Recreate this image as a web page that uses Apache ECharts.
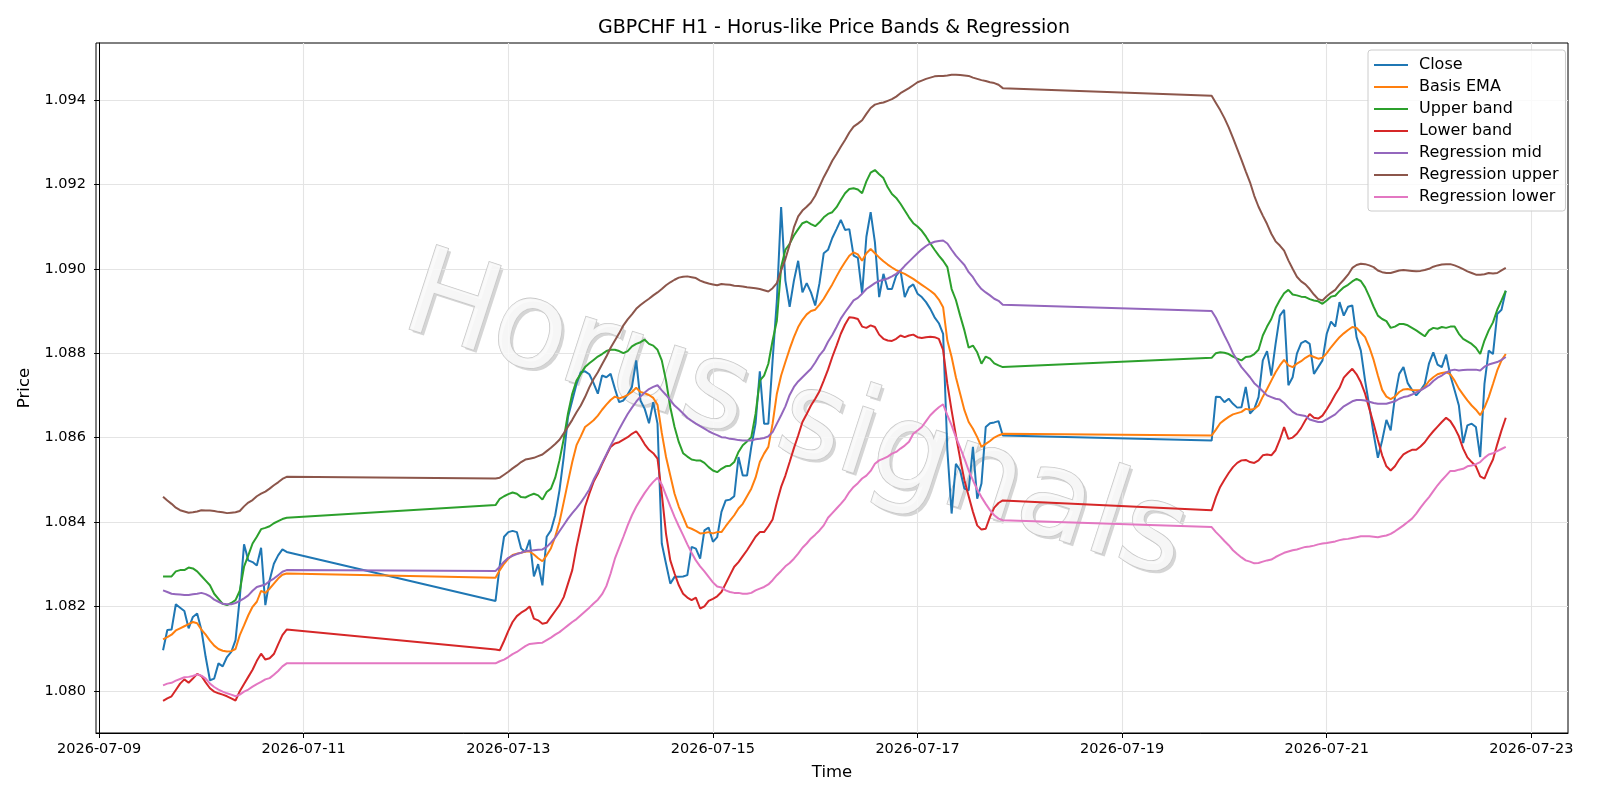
<!DOCTYPE html>
<html>
<head>
<meta charset="utf-8">
<title>GBPCHF H1 - Horus-like Price Bands & Regression</title>
<script src="https://cdn.jsdelivr.net/npm/echarts@6/dist/echarts.min.js"></script>
<style>
  html, body { margin: 0; padding: 0; background: #fff; }
  #chart { width: 1600px; height: 800px; }
</style>
</head>
<body>
<div id="chart"></div>
<script>
// hourly bars, one block per trading week part: [day, first hour, bar count]
const DAY0 = Date.UTC(2026, 6, 9)
const sessions = [['2026-07-09', 15, 30], ['2026-07-12', 21, 120], ['2026-07-19', 21, 70]]

const xTickDays = ['2026-07-09', '2026-07-11', '2026-07-13', '2026-07-15', '2026-07-17', '2026-07-19', '2026-07-21', '2026-07-23']
const yTicks = [1.080, 1.082, 1.084, 1.086, 1.088, 1.090, 1.092, 1.094]

const closeVals = [
  // 07-09 15:00 .. 07-10 20:00
  1.08096, 1.08144, 1.08145, 1.08205, 1.08197, 1.08189, 1.08148, 1.08175, 1.08183, 1.08144,
  1.08080, 1.08025, 1.08029, 1.08065, 1.08058, 1.08080, 1.08092, 1.08120, 1.08220, 1.08347,
  1.08309, 1.08305, 1.08297, 1.08339, 1.08203, 1.08262, 1.08301, 1.08321, 1.08335, 1.08329,
  // 07-12 21:00 .. 07-17 20:00
  1.08213, 1.08298, 1.08365, 1.08376, 1.08379, 1.08376, 1.08337, 1.08329, 1.08358, 1.08271,
  1.08300, 1.08250, 1.08365, 1.08380, 1.08416, 1.08475, 1.08554, 1.08649, 1.08688, 1.08727,
  1.08755, 1.08757, 1.08750, 1.08729, 1.08704, 1.08747, 1.08743, 1.08751, 1.08716, 1.08684,
  1.08688, 1.08702, 1.08720, 1.08783, 1.08688, 1.08668, 1.08634, 1.08684, 1.08633, 1.08349,
  1.08301, 1.08254, 1.08270, 1.08270, 1.08271, 1.08274, 1.08341, 1.08337, 1.08313, 1.08380,
  1.08387, 1.08353, 1.08364, 1.08424, 1.08451, 1.08453, 1.08461, 1.08554, 1.08510, 1.08510,
  1.08578, 1.08633, 1.08757, 1.08633, 1.08633, 1.08783, 1.08925, 1.09146, 1.08972, 1.08910,
  1.08972, 1.09019, 1.08944, 1.08966, 1.08944, 1.08913, 1.08966, 1.09037, 1.09045, 1.09073,
  1.09094, 1.09116, 1.09092, 1.09094, 1.09031, 1.09026, 1.08941, 1.09076, 1.09134, 1.09063,
  1.08933, 1.08988, 1.08952, 1.08952, 1.08984, 1.08996, 1.08933, 1.08956, 1.08963, 1.08941,
  1.08933, 1.08921, 1.08905, 1.08885, 1.08871, 1.08846, 1.08570, 1.08420, 1.08538, 1.08522,
  1.08479, 1.08475, 1.08578, 1.08455, 1.08491, 1.08625, 1.08634, 1.08636, 1.08639, 1.08605,
  // 07-19 21:00 .. 07-22 18:00
  1.08593, 1.08697, 1.08696, 1.08684, 1.08692, 1.08680, 1.08671, 1.08672, 1.08720, 1.08657,
  1.08668, 1.08696, 1.08783, 1.08805, 1.08747, 1.08822, 1.08889, 1.08903, 1.08724, 1.08743,
  1.08799, 1.08824, 1.08829, 1.08822, 1.08751, 1.08767, 1.08783, 1.08846, 1.08875, 1.08863,
  1.08921, 1.08889, 1.08910, 1.08913, 1.08838, 1.08806, 1.08735, 1.08674, 1.08609, 1.08552,
  1.08593, 1.08642, 1.08617, 1.08696, 1.08751, 1.08767, 1.08729, 1.08713, 1.08700, 1.08712,
  1.08727, 1.08776, 1.08802, 1.08773, 1.08767, 1.08797, 1.08747, 1.08712, 1.08676, 1.08587,
  1.08629, 1.08633, 1.08625, 1.08554, 1.08727, 1.08806, 1.08798, 1.08893, 1.08903, 1.08948
]

const emaVals = [
  1.08122, 1.08127, 1.08133, 1.08143, 1.08148, 1.08153, 1.08158, 1.08163, 1.08160, 1.08145,
  1.08133, 1.08119, 1.08107, 1.08099, 1.08095, 1.08093, 1.08094, 1.08099, 1.08132, 1.08155,
  1.08179, 1.08199, 1.08211, 1.08237, 1.08232, 1.08242, 1.08254, 1.08266, 1.08275, 1.08278,
  1.08268, 1.08286, 1.08301, 1.08313, 1.08322, 1.08325, 1.08327, 1.08330, 1.08330, 1.08323,
  1.08314, 1.08307, 1.08321, 1.08338, 1.08365, 1.08400, 1.08447, 1.08495, 1.08542, 1.08582,
  1.08603, 1.08625, 1.08633, 1.08641, 1.08652, 1.08666, 1.08678, 1.08689, 1.08697, 1.08693,
  1.08696, 1.08701, 1.08708, 1.08718, 1.08708, 1.08705, 1.08701, 1.08694, 1.08678, 1.08611,
  1.08554, 1.08510, 1.08467, 1.08436, 1.08412, 1.08388, 1.08384, 1.08379, 1.08373, 1.08374,
  1.08376, 1.08373, 1.08376, 1.08376, 1.08390, 1.08403, 1.08416, 1.08432, 1.08443, 1.08461,
  1.08479, 1.08505, 1.08542, 1.08562, 1.08578, 1.08633, 1.08704, 1.08747, 1.08779, 1.08810,
  1.08838, 1.08862, 1.08879, 1.08892, 1.08900, 1.08903, 1.08915, 1.08929, 1.08946, 1.08963,
  1.08982, 1.09000, 1.09016, 1.09031, 1.09039, 1.09034, 1.09019, 1.09037, 1.09047, 1.09037,
  1.09027, 1.09018, 1.09010, 1.09003, 1.08997, 1.08992, 1.08988, 1.08982, 1.08976, 1.08969,
  1.08962, 1.08955, 1.08948, 1.08940, 1.08927, 1.08909, 1.08830, 1.08791, 1.08743, 1.08704,
  1.08665, 1.08637, 1.08621, 1.08601, 1.08578, 1.08585, 1.08592, 1.08600, 1.08605, 1.08609,
  1.08605, 1.08619, 1.08634, 1.08642, 1.08649, 1.08655, 1.08658, 1.08661, 1.08668, 1.08666,
  1.08668, 1.08676, 1.08697, 1.08715, 1.08735, 1.08755, 1.08771, 1.08784, 1.08771, 1.08767,
  1.08775, 1.08781, 1.08789, 1.08795, 1.08791, 1.08787, 1.08789, 1.08800, 1.08814, 1.08826,
  1.08838, 1.08847, 1.08855, 1.08862, 1.08860, 1.08849, 1.08838, 1.08814, 1.08784, 1.08747,
  1.08713, 1.08697, 1.08691, 1.08697, 1.08708, 1.08714, 1.08715, 1.08713, 1.08712, 1.08712,
  1.08720, 1.08734, 1.08743, 1.08750, 1.08753, 1.08755, 1.08750, 1.08735, 1.08716, 1.08702,
  1.08688, 1.08676, 1.08666, 1.08653, 1.08671, 1.08696, 1.08727, 1.08759, 1.08783, 1.08798
]

const upperVals = [
  1.08271, 1.08271, 1.08271, 1.08283, 1.08286, 1.08286, 1.08292, 1.08290, 1.08283, 1.08272,
  1.08261, 1.08250, 1.08230, 1.08218, 1.08206, 1.08203, 1.08208, 1.08215, 1.08237, 1.08294,
  1.08321, 1.08349, 1.08365, 1.08383, 1.08386, 1.08390, 1.08397, 1.08402, 1.08407, 1.08410,
  1.08440, 1.08455, 1.08461, 1.08466, 1.08470, 1.08467, 1.08459, 1.08458, 1.08463, 1.08467,
  1.08463, 1.08453, 1.08471, 1.08479, 1.08505, 1.08546, 1.08597, 1.08657, 1.08704, 1.08735,
  1.08751, 1.08767, 1.08776, 1.08784, 1.08792, 1.08798, 1.08805, 1.08808, 1.08808, 1.08805,
  1.08800, 1.08805, 1.08816, 1.08822, 1.08826, 1.08832, 1.08822, 1.08818, 1.08808, 1.08783,
  1.08735, 1.08672, 1.08625, 1.08589, 1.08563, 1.08555, 1.08548, 1.08546, 1.08546, 1.08540,
  1.08530, 1.08522, 1.08518, 1.08526, 1.08532, 1.08533, 1.08542, 1.08566, 1.08582, 1.08591,
  1.08601, 1.08656, 1.08735, 1.08747, 1.08775, 1.08830, 1.08877, 1.09004, 1.09045, 1.09059,
  1.09079, 1.09094, 1.09108, 1.09112, 1.09106, 1.09101, 1.09110, 1.09122, 1.09130, 1.09134,
  1.09146, 1.09163, 1.09179, 1.09189, 1.09191, 1.09188, 1.09179, 1.09207, 1.09228, 1.09234,
  1.09224, 1.09215, 1.09193, 1.09177, 1.09168, 1.09154, 1.09138, 1.09122, 1.09108, 1.09100,
  1.09090, 1.09076, 1.09060, 1.09045, 1.09031, 1.09019, 1.09004, 1.08952, 1.08926, 1.08889,
  1.08854, 1.08813, 1.08818, 1.08802, 1.08775, 1.08792, 1.08787, 1.08776, 1.08771, 1.08767,
  1.08789, 1.08800, 1.08802, 1.08801, 1.08798, 1.08792, 1.08787, 1.08783, 1.08791, 1.08792,
  1.08798, 1.08808, 1.08842, 1.08863, 1.08881, 1.08907, 1.08926, 1.08942, 1.08950, 1.08939,
  1.08937, 1.08934, 1.08933, 1.08928, 1.08925, 1.08923, 1.08917, 1.08925, 1.08934, 1.08936,
  1.08947, 1.08956, 1.08962, 1.08970, 1.08976, 1.08971, 1.08956, 1.08934, 1.08910, 1.08889,
  1.08881, 1.08876, 1.08860, 1.08863, 1.08869, 1.08869, 1.08866, 1.08860, 1.08854, 1.08847,
  1.08840, 1.08854, 1.08860, 1.08858, 1.08862, 1.08860, 1.08863, 1.08863, 1.08846, 1.08834,
  1.08828, 1.08822, 1.08813, 1.08798, 1.08830, 1.08854, 1.08873, 1.08903, 1.08925, 1.08948
]

const lowerVals = [
  1.07976, 1.07982, 1.07987, 1.08002, 1.08017, 1.08027, 1.08019, 1.08029, 1.08040, 1.08035,
  1.08020, 1.08006, 1.07998, 1.07994, 1.07991, 1.07987, 1.07982, 1.07977, 1.07999, 1.08016,
  1.08033, 1.08050, 1.08071, 1.08088, 1.08074, 1.08077, 1.08087, 1.08110, 1.08132, 1.08145,
  1.08098, 1.08096, 1.08118, 1.08142, 1.08163, 1.08177, 1.08185, 1.08191, 1.08200, 1.08171,
  1.08167, 1.08159, 1.08161, 1.08175, 1.08189, 1.08203, 1.08222, 1.08254, 1.08286, 1.08341,
  1.08388, 1.08436, 1.08467, 1.08495, 1.08514, 1.08537, 1.08558, 1.08578, 1.08586, 1.08589,
  1.08595, 1.08601, 1.08609, 1.08615, 1.08601, 1.08584, 1.08571, 1.08563, 1.08550, 1.08467,
  1.08372, 1.08309, 1.08278, 1.08250, 1.08230, 1.08221, 1.08215, 1.08221, 1.08195, 1.08200,
  1.08213, 1.08218, 1.08224, 1.08234, 1.08254, 1.08274, 1.08294, 1.08305, 1.08319, 1.08333,
  1.08349, 1.08365, 1.08376, 1.08376, 1.08390, 1.08406, 1.08447, 1.08483, 1.08510, 1.08542,
  1.08575, 1.08605, 1.08637, 1.08656, 1.08676, 1.08692, 1.08710, 1.08735, 1.08761, 1.08791,
  1.08818, 1.08846, 1.08868, 1.08885, 1.08884, 1.08881, 1.08863, 1.08860, 1.08866, 1.08862,
  1.08844, 1.08834, 1.08830, 1.08829, 1.08834, 1.08842, 1.08838, 1.08842, 1.08844, 1.08838,
  1.08836, 1.08838, 1.08839, 1.08838, 1.08834, 1.08808, 1.08727, 1.08664, 1.08605, 1.08550,
  1.08499, 1.08461, 1.08424, 1.08392, 1.08382, 1.08384, 1.08412, 1.08434, 1.08445, 1.08451,
  1.08428, 1.08459, 1.08483, 1.08500, 1.08516, 1.08530, 1.08540, 1.08546, 1.08547, 1.08542,
  1.08540, 1.08546, 1.08558, 1.08560, 1.08558, 1.08570, 1.08595, 1.08625, 1.08597, 1.08600,
  1.08609, 1.08623, 1.08641, 1.08656, 1.08647, 1.08645, 1.08652, 1.08667, 1.08684, 1.08702,
  1.08718, 1.08742, 1.08753, 1.08763, 1.08750, 1.08731, 1.08704, 1.08668, 1.08633, 1.08594,
  1.08558, 1.08532, 1.08522, 1.08532, 1.08548, 1.08560, 1.08566, 1.08571, 1.08571, 1.08579,
  1.08589, 1.08603, 1.08615, 1.08626, 1.08637, 1.08647, 1.08639, 1.08623, 1.08603, 1.08574,
  1.08553, 1.08542, 1.08532, 1.08508, 1.08503, 1.08527, 1.08548, 1.08584, 1.08617, 1.08647
]

const regMidVals = [
  1.08238, 1.08234, 1.08230, 1.08229, 1.08228, 1.08227, 1.08227, 1.08229, 1.08230, 1.08232,
  1.08229, 1.08224, 1.08216, 1.08211, 1.08206, 1.08205, 1.08205, 1.08208, 1.08213, 1.08219,
  1.08226, 1.08237, 1.08246, 1.08249, 1.08252, 1.08260, 1.08266, 1.08274, 1.08282, 1.08286,
  1.08284, 1.08294, 1.08306, 1.08315, 1.08320, 1.08324, 1.08327, 1.08331, 1.08332, 1.08333,
  1.08334, 1.08335, 1.08341, 1.08351, 1.08363, 1.08378, 1.08393, 1.08408, 1.08421, 1.08433,
  1.08446, 1.08461, 1.08477, 1.08500, 1.08519, 1.08540, 1.08560, 1.08581, 1.08600, 1.08620,
  1.08638, 1.08656, 1.08671, 1.08685, 1.08697, 1.08707, 1.08715, 1.08720, 1.08724, 1.08712,
  1.08701, 1.08689, 1.08676, 1.08667, 1.08657, 1.08647, 1.08640, 1.08633, 1.08627, 1.08621,
  1.08615, 1.08610, 1.08606, 1.08601, 1.08600, 1.08597, 1.08596, 1.08594, 1.08593, 1.08593,
  1.08593, 1.08596, 1.08597, 1.08599, 1.08603, 1.08613, 1.08633, 1.08653, 1.08674, 1.08701,
  1.08720, 1.08733, 1.08743, 1.08753, 1.08763, 1.08778, 1.08795, 1.08807, 1.08827, 1.08843,
  1.08862, 1.08882, 1.08897, 1.08911, 1.08925, 1.08931, 1.08941, 1.08952, 1.08959, 1.08966,
  1.08971, 1.08974, 1.08977, 1.08982, 1.08988, 1.08996, 1.09007, 1.09017, 1.09027, 1.09037,
  1.09046, 1.09054, 1.09060, 1.09064, 1.09066, 1.09067, 1.09060, 1.09045, 1.09031, 1.09020,
  1.09009, 1.08992, 1.08980, 1.08964, 1.08952, 1.08944, 1.08937, 1.08929, 1.08924, 1.08915,
  1.08900, 1.08884, 1.08863, 1.08842, 1.08822, 1.08800, 1.08783, 1.08767, 1.08755, 1.08743,
  1.08729, 1.08720, 1.08710, 1.08700, 1.08696, 1.08692, 1.08690, 1.08682, 1.08671, 1.08661,
  1.08655, 1.08653, 1.08651, 1.08643, 1.08640, 1.08637, 1.08637, 1.08643, 1.08649, 1.08655,
  1.08665, 1.08674, 1.08680, 1.08686, 1.08689, 1.08689, 1.08688, 1.08685, 1.08682, 1.08680,
  1.08680, 1.08680, 1.08683, 1.08686, 1.08692, 1.08696, 1.08698, 1.08702, 1.08707, 1.08712,
  1.08718, 1.08724, 1.08734, 1.08742, 1.08747, 1.08754, 1.08759, 1.08761, 1.08759, 1.08760,
  1.08761, 1.08761, 1.08761, 1.08759, 1.08768, 1.08773, 1.08776, 1.08779, 1.08784, 1.08791
]

const regUpperVals = [
  1.08460, 1.08451, 1.08443, 1.08434, 1.08428, 1.08425, 1.08422, 1.08423, 1.08425, 1.08428,
  1.08427, 1.08427, 1.08426, 1.08424, 1.08423, 1.08421, 1.08422, 1.08423, 1.08426, 1.08437,
  1.08446, 1.08452, 1.08461, 1.08467, 1.08472, 1.08479, 1.08487, 1.08494, 1.08502, 1.08507,
  1.08503, 1.08505, 1.08512, 1.08519, 1.08527, 1.08534, 1.08542, 1.08548, 1.08550, 1.08552,
  1.08556, 1.08560, 1.08568, 1.08576, 1.08585, 1.08595, 1.08610, 1.08626, 1.08642, 1.08660,
  1.08676, 1.08696, 1.08719, 1.08739, 1.08755, 1.08774, 1.08792, 1.08813, 1.08830, 1.08847,
  1.08866, 1.08880, 1.08892, 1.08905, 1.08914, 1.08922, 1.08929, 1.08937, 1.08944, 1.08952,
  1.08961, 1.08968, 1.08974, 1.08979, 1.08981, 1.08982, 1.08980, 1.08978, 1.08972, 1.08968,
  1.08965, 1.08963, 1.08961, 1.08964, 1.08963, 1.08962, 1.08960, 1.08959, 1.08958, 1.08956,
  1.08955, 1.08954, 1.08952, 1.08949, 1.08946, 1.08954, 1.08966, 1.08996, 1.09023, 1.09057,
  1.09098, 1.09124, 1.09138, 1.09147, 1.09157, 1.09173, 1.09195, 1.09217, 1.09236, 1.09256,
  1.09272, 1.09289, 1.09305, 1.09323, 1.09337, 1.09344, 1.09352, 1.09367, 1.09381, 1.09389,
  1.09392, 1.09394, 1.09398, 1.09402, 1.09408, 1.09416, 1.09422, 1.09428, 1.09435, 1.09442,
  1.09446, 1.09450, 1.09453, 1.09456, 1.09457, 1.09457, 1.09458, 1.09460, 1.09460, 1.09459,
  1.09458, 1.09457, 1.09453, 1.09450, 1.09447, 1.09445, 1.09442, 1.09440, 1.09436, 1.09428,
  1.09410, 1.09393, 1.09376, 1.09357, 1.09335, 1.09310, 1.09284, 1.09258, 1.09231, 1.09205,
  1.09173, 1.09147, 1.09126, 1.09106, 1.09083, 1.09065, 1.09055, 1.09043, 1.09020, 1.09000,
  1.08981, 1.08970, 1.08963, 1.08952, 1.08939, 1.08928, 1.08925, 1.08935, 1.08943, 1.08950,
  1.08963, 1.08974, 1.08986, 1.09002, 1.09009, 1.09012, 1.09011, 1.09008, 1.09004, 1.08996,
  1.08992, 1.08990, 1.08990, 1.08993, 1.08996, 1.08997, 1.08996, 1.08995, 1.08994, 1.08995,
  1.08997, 1.09000, 1.09005, 1.09008, 1.09010, 1.09011, 1.09011, 1.09008, 1.09004, 1.08999,
  1.08994, 1.08990, 1.08986, 1.08986, 1.08987, 1.08990, 1.08989, 1.08990, 1.08996, 1.09002
]

const regLowerVals = [
  1.08013, 1.08017, 1.08019, 1.08024, 1.08028, 1.08032, 1.08033, 1.08035, 1.08039, 1.08036,
  1.08029, 1.08017, 1.08009, 1.08003, 1.07998, 1.07994, 1.07991, 1.07987, 1.07991, 1.07998,
  1.08003, 1.08010, 1.08016, 1.08021, 1.08027, 1.08030, 1.08038, 1.08047, 1.08058, 1.08065,
  1.08065, 1.08070, 1.08074, 1.08080, 1.08087, 1.08092, 1.08099, 1.08106, 1.08111, 1.08112,
  1.08113, 1.08114, 1.08120, 1.08126, 1.08133, 1.08139, 1.08147, 1.08155, 1.08163, 1.08170,
  1.08179, 1.08188, 1.08197, 1.08207, 1.08216, 1.08229, 1.08248, 1.08278, 1.08313, 1.08339,
  1.08365, 1.08392, 1.08416, 1.08436, 1.08453, 1.08469, 1.08483, 1.08495, 1.08505, 1.08489,
  1.08463, 1.08437, 1.08412, 1.08390, 1.08369, 1.08347, 1.08327, 1.08309, 1.08295, 1.08283,
  1.08270, 1.08257, 1.08247, 1.08245, 1.08238, 1.08234, 1.08232, 1.08232, 1.08230, 1.08230,
  1.08232, 1.08238, 1.08242, 1.08246, 1.08252, 1.08262, 1.08274, 1.08284, 1.08295, 1.08303,
  1.08313, 1.08325, 1.08339, 1.08349, 1.08361, 1.08370, 1.08380, 1.08392, 1.08410, 1.08421,
  1.08432, 1.08443, 1.08455, 1.08471, 1.08483, 1.08492, 1.08503, 1.08510, 1.08521, 1.08538,
  1.08546, 1.08550, 1.08555, 1.08562, 1.08566, 1.08574, 1.08581, 1.08590, 1.08609, 1.08617,
  1.08625, 1.08639, 1.08653, 1.08663, 1.08672, 1.08679, 1.08653, 1.08629, 1.08601, 1.08576,
  1.08550, 1.08522, 1.08499, 1.08477, 1.08459, 1.08443, 1.08428, 1.08416, 1.08408, 1.08404,
  1.08388, 1.08376, 1.08366, 1.08355, 1.08345, 1.08333, 1.08324, 1.08316, 1.08309, 1.08306,
  1.08302, 1.08303, 1.08306, 1.08309, 1.08311, 1.08317, 1.08322, 1.08327, 1.08330, 1.08333,
  1.08335, 1.08338, 1.08341, 1.08342, 1.08344, 1.08347, 1.08349, 1.08350, 1.08352, 1.08354,
  1.08357, 1.08359, 1.08360, 1.08362, 1.08364, 1.08366, 1.08366, 1.08366, 1.08365, 1.08364,
  1.08366, 1.08368, 1.08372, 1.08378, 1.08385, 1.08392, 1.08400, 1.08408, 1.08420, 1.08434,
  1.08447, 1.08459, 1.08473, 1.08487, 1.08499, 1.08510, 1.08521, 1.08521, 1.08524, 1.08526,
  1.08532, 1.08534, 1.08537, 1.08542, 1.08552, 1.08560, 1.08563, 1.08568, 1.08573, 1.08578
]

// hours since 2026-07-09 00:00 for every bar
const hours = []
sessions.forEach(([day, start, n]) => {
  const base = (Date.parse(day + 'T00:00:00Z') - DAY0) / 3600000 + start
  for (let i = 0; i < n; i++) hours.push(base + i)
})
const toHour = d => (Date.parse(d + 'T00:00:00Z') - DAY0) / 3600000
const hourLabel = v => new Date(DAY0 + v * 3600000).toISOString().slice(0, 10)

const FONT = 'DejaVu Sans'
const pairs = vals => vals.map((v, i) => [hours[i], v])

const seriesDefs = [
  ['Close', closeVals, '#1f77b4'],
  ['Basis EMA', emaVals, '#ff7f0e'],
  ['Upper band', upperVals, '#2ca02c'],
  ['Lower band', lowerVals, '#d62728'],
  ['Regression mid', regMidVals, '#9467bd'],
  ['Regression upper', regUpperVals, '#8c564b'],
  ['Regression lower', regLowerVals, '#e377c2']
]

// watermark: outlined pale letters over a soft offset shadow
const wm = { x: 795, y: 421, rot: -18 * Math.PI / 180, font: '121px "DejaVu Sans"' }

const chart = echarts.init(document.getElementById('chart'))
chart.setOption({
  animation: false,
  backgroundColor: '#fff',
  title: {
    text: 'GBPCHF H1 - Horus-like Price Bands & Regression',
    left: 829, top: 14, textAlign: 'center',
    textStyle: { fontFamily: FONT, fontSize: 19, fontWeight: 'normal', color: '#000' }
  },
  legend: {
    orient: 'vertical', left: 1368, top: 50,
    padding: [6, 7, 5, 6],
    icon: 'rect', itemWidth: 34, itemHeight: 2, itemGap: 4,
    borderColor: '#cccccc', borderWidth: 1, borderRadius: 3,
    backgroundColor: 'rgba(255,255,255,0.8)',
    textStyle: { fontFamily: FONT, fontSize: 16, color: '#000', lineHeight: 18, padding: [0, 0, 0, 6] },
    data: seriesDefs.map(d => d[0])
  },
  grid: {
    left: 96, right: 32, top: 43, bottom: 67,
    show: true, borderColor: '#000', borderWidth: 1, backgroundColor: 'transparent'
  },
  xAxis: {
    type: 'value', min: -0.73, max: 344.6,
    minInterval: 48, maxInterval: 48,
    name: 'Time', nameLocation: 'middle', nameGap: 31,
    nameTextStyle: { fontFamily: FONT, fontSize: 16.5, color: '#000' },
    axisLine: { show: true, lineStyle: { color: '#000', width: 1 } },
    axisTick: { show: true, length: 5, lineStyle: { color: '#000' }, customValues: xTickDays.map(toHour) },
    axisLabel: {
      margin: 9, fontFamily: FONT, fontSize: 14.5, color: '#000',
      customValues: xTickDays.map(toHour), formatter: hourLabel
    },
    splitLine: { show: true, lineStyle: { color: '#e4e4e4', width: 1.1 } }
  },
  yAxis: {
    type: 'value', min: 1.079, max: 1.09535,
    minInterval: 0.002, maxInterval: 0.002,
    name: 'Price', nameLocation: 'middle', nameGap: 59,
    nameTextStyle: { fontFamily: FONT, fontSize: 16.5, color: '#000' },
    axisLine: { show: true, lineStyle: { color: '#000', width: 1 } },
    axisTick: { show: true, length: 5, lineStyle: { color: '#000' }, customValues: yTicks },
    axisLabel: {
      margin: 10, fontFamily: FONT, fontSize: 14.5, color: '#000',
      customValues: yTicks, formatter: v => v.toFixed(3)
    },
    splitLine: { show: true, lineStyle: { color: '#e4e4e4', width: 1.1 } }
  },
  graphic: [
    {
      type: 'text', x: wm.x + 3, y: wm.y + 3, rotation: wm.rot, z: 0, silent: true,
      style: {
        text: 'Horus signals', font: wm.font, fill: 'rgba(150,150,150,0.4)',
        textAlign: 'center', textVerticalAlign: 'middle', align: 'center', verticalAlign: 'middle'
      }
    },
    {
      type: 'text', x: wm.x, y: wm.y, rotation: wm.rot, z: 1, silent: true,
      style: {
        text: 'Horus signals', font: wm.font, fill: 'rgba(250,250,250,0.9)',
        stroke: 'rgba(200,200,200,1)', lineWidth: 1.6,
        textAlign: 'center', textVerticalAlign: 'middle', align: 'center', verticalAlign: 'middle'
      }
    }
  ],
  series: seriesDefs.map(([name, vals, color]) => ({
    name, type: 'line', data: pairs(vals),
    symbol: 'none', z: 2,
    lineStyle: { color, width: 2 }, itemStyle: { color }
  }))
})
</script>
</body>
</html>
